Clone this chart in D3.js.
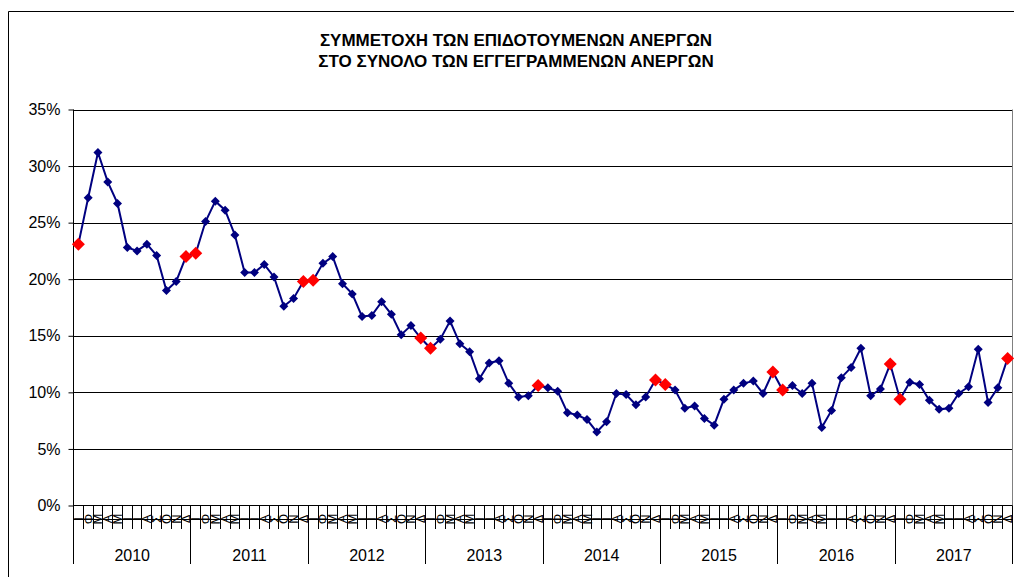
<!DOCTYPE html>
<html>
<head>
<meta charset="utf-8">
<script src="https://cdn.jsdelivr.net/npm/d3@7"></script>
<style>
  body { margin: 0; background: #fff; }
  svg { display: block; font-family: "Liberation Sans", Arial, sans-serif; }
</style>
</head>
<body>
<svg id="chart" width="1014" height="577"></svg>
<script>
// data, monthly Jan 2010 .. Dec 2017 (%)
const years = ["2010", "2011", "2012", "2013", "2014", "2015", "2016", "2017"];
const months = ["Ι", "Φ", "Μ", "Α", "Μ", "Ι", "Ι", "Α", "Σ", "Ο", "Ν", "Δ"];
const values = [
  23.1, 27.2, 31.2, 28.6, 26.7, 22.8, 22.5, 23.1, 22.1, 19.0, 19.8, 22.0,
  22.3, 25.1, 26.9, 26.1, 23.9, 20.6, 20.6, 21.3, 20.2, 17.6, 18.3, 19.8,
  19.9, 21.4, 22.0, 19.6, 18.7, 16.7, 16.8, 18.0, 16.9, 15.1, 15.9, 14.8,
  13.9, 14.7, 16.3, 14.3, 13.6, 11.2, 12.6, 12.8, 10.8, 9.6, 9.7, 10.6,
  10.4, 10.1, 8.2, 8.0, 7.6, 6.5, 7.4, 9.9, 9.8, 8.9, 9.6, 11.1,
  10.7, 10.2, 8.6, 8.8, 7.7, 7.1, 9.4, 10.2, 10.8, 11.0, 9.9, 11.8,
  10.2, 10.6, 9.9, 10.8, 6.9, 8.4, 11.3, 12.2, 13.9, 9.7, 10.3, 12.5,
  9.4, 10.9, 10.7, 9.3, 8.5, 8.6, 9.9, 10.5, 13.8, 9.1, 10.4, 13.0
];
// points drawn in red (December / January)
const highlighted = [0, 11, 12, 23, 24, 35, 36, 47, 59, 60, 71, 72, 83, 84, 95];
const yTicks = [0, 5, 10, 15, 20, 25, 30, 35];
const titleLines = [
  "ΣΥΜΜΕΤΟΧΗ ΤΩΝ ΕΠΙΔΟΤΟΥΜΕΝΩΝ ΑΝΕΡΓΩΝ",
  "ΣΤΟ ΣΥΝΟΛΟ ΤΩΝ ΕΓΓΕΓΡΑΜΜΕΝΩΝ ΑΝΕΡΓΩΝ"
];

const svg = d3.select("#chart");
const plotLeft = 73.5, plotRight = 1012.5, plotTop = 109.5, plotBottom = 505.5;

const x = d3.scaleBand()
  .domain(d3.range(values.length))
  .range([plotLeft, plotRight]);
const y = d3.scaleLinear()
  .domain([0, 35])
  .range([plotBottom, plotTop]);

// outer chart frame (cropped on right / bottom)
svg.append("path")
  .attr("d", "M8.5,577 V11.5 H1014")
  .attr("fill", "none")
  .attr("stroke", "#000");

// title
svg.append("g").selectAll("text")
  .data(titleLines)
  .enter()
  .append("text")
  .attr("x", 516)
  .attr("y", (d, i) => 46 + i * 21)
  .attr("text-anchor", "middle")
  .attr("font-size", 17)
  .attr("font-weight", "bold")
  .text(d => d);

// gridlines
svg.append("g").selectAll("line")
  .data(yTicks.slice(1))
  .enter()
  .append("line")
  .attr("x1", plotLeft).attr("x2", plotRight)
  .attr("y1", d => Math.round(y(d)) + 0.5)
  .attr("y2", d => Math.round(y(d)) + 0.5)
  .attr("stroke", "#000");

// plot area right border
svg.append("line")
  .attr("x1", plotRight).attr("x2", plotRight)
  .attr("y1", plotTop).attr("y2", plotBottom)
  .attr("stroke", "#808080");

// y axis
const yAxis = svg.append("g")
  .attr("transform", "translate(" + plotLeft + ",0)")
  .call(d3.axisLeft(y).tickValues(yTicks).tickSize(5).tickPadding(8)
    .tickFormat(d => d + "%"));
yAxis.select(".domain").remove();
yAxis.selectAll("line").attr("stroke", "#000");
yAxis.selectAll("text").attr("font-size", 16).attr("fill", "#000")
  .attr("font-family", "Liberation Sans, Arial, sans-serif");
svg.append("line")
  .attr("x1", plotLeft).attr("x2", plotLeft)
  .attr("y1", plotTop).attr("y2", 564)
  .attr("stroke", "#000");

// category axis: baseline, month ticks, year separators
svg.append("line")
  .attr("x1", plotLeft).attr("x2", plotRight)
  .attr("y1", plotBottom).attr("y2", plotBottom)
  .attr("stroke", "#000");
svg.append("line")
  .attr("x1", plotLeft).attr("x2", plotRight)
  .attr("y1", 519.5).attr("y2", 519.5)
  .attr("stroke", "#000");

svg.append("g").selectAll("line")
  .data(d3.range(values.length + 1))
  .enter()
  .append("line")
  .attr("x1", d => Math.floor(plotLeft + d * x.step()) + 0.5)
  .attr("x2", d => Math.floor(plotLeft + d * x.step()) + 0.5)
  .attr("y1", plotBottom)
  .attr("y2", d => d % 12 === 0 ? 564 : 529)
  .attr("stroke", "#000");

svg.append("g").selectAll("text")
  .data(values.map((v, i) => i))
  .enter()
  .append("text")
  .attr("transform", d => "translate(" + (x(d) + x.bandwidth() / 2 + 4.5) + ",519) rotate(-90)")
  .attr("text-anchor", "middle")
  .attr("font-size", 13)
  .text(d => months[d % 12]);

svg.append("g").selectAll("text")
  .data(years)
  .enter()
  .append("text")
  .attr("x", (d, i) => plotLeft + (i * 12 + 6) * x.step())
  .attr("y", 561)
  .attr("text-anchor", "middle")
  .attr("font-size", 16)
  .text(d => d);

// series
const cx = i => x(i) + x.bandwidth() / 2;
svg.append("path")
  .datum(values)
  .attr("fill", "none")
  .attr("stroke", "#000080")
  .attr("stroke-width", 2)
  .attr("d", d3.line().x((d, i) => cx(i)).y(d => y(d)));

const diamond = s => "M0," + (-s) + "L" + s + ",0L0," + s + "L" + (-s) + ",0Z";
svg.append("g").selectAll("path")
  .data(values.map((v, i) => ({v, i, red: highlighted.includes(i)})))
  .enter()
  .append("path")
  .attr("transform", d => "translate(" + cx(d.i) + "," + y(d.v) + ")")
  .attr("d", d => d.red ? diamond(6.5) : diamond(4.5))
  .attr("fill", d => d.red ? "#ff0000" : "#000080");
</script>
</body>
</html>
